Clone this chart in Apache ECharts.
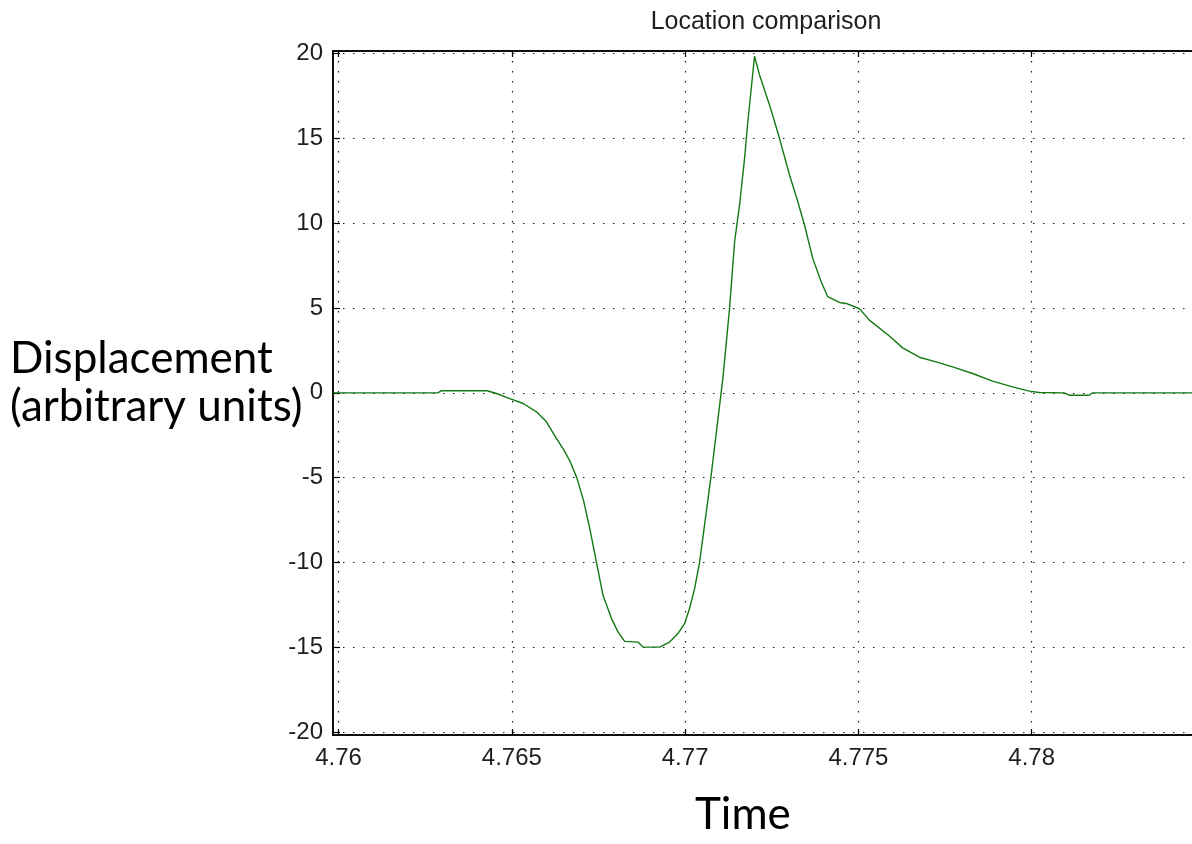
<!DOCTYPE html>
<html>
<head>
<meta charset="utf-8">
<script src="https://cdn.jsdelivr.net/npm/echarts@6/dist/echarts.min.js"></script>
<style>
html,body{margin:0;padding:0;overflow:hidden;background:#fff;}
#chart{width:1210px;height:844px;}
</style>
</head>
<body>
<div id="chart"></div>
<script>
// ---- data ----
const titleText = 'Location comparison';
const xName = 'Time';
const yNameLines = ['Displacement', '(arbitrary units)'];
const xTicks = [4.76, 4.765, 4.77, 4.775, 4.78];
const yTicks = [-20, -15, -10, -5, 0, 5, 10, 15, 20];
const times = [
  4.75985, 4.762867, 4.762954, 4.764280, 4.764559, 4.764942, 4.765326, 4.765712,
  4.766000, 4.766288, 4.766478, 4.766671, 4.766873, 4.767075, 4.767248, 4.767441,
  4.767631, 4.767873, 4.768063, 4.768256, 4.768640, 4.768784, 4.769265, 4.769553,
  4.769793, 4.769986, 4.770130, 4.770274, 4.770418, 4.770749, 4.771089, 4.771282,
  4.771427, 4.771571, 4.771715, 4.771810, 4.771908, 4.772003, 4.772147, 4.772435,
  4.772723, 4.773012, 4.773251, 4.773444, 4.773683, 4.773925, 4.774115, 4.774452,
  4.774646, 4.775029, 4.775317, 4.775893, 4.776277, 4.776758, 4.777239, 4.777718,
  4.778294, 4.778870, 4.779447, 4.779928, 4.780216, 4.780937, 4.781081, 4.781657,
  4.781752, 4.785
];
const displacement = [
  0, 0, 0.12, 0.12, -0.04, -0.34, -0.63, -1.12,
  -1.71, -2.7, -3.29, -4.0, -5.0, -6.4, -8.0, -9.98,
  -11.94, -13.3, -14.1, -14.66, -14.7, -14.99, -15.0, -14.7,
  -14.2, -13.6, -12.7, -11.55, -9.98, -4.9, 0.85, 4.98,
  8.91, 11.08, 13.83, 16.0, 17.96, 19.85, 18.75, 16.98,
  15.01, 12.85, 11.28, 9.9, 7.93, 6.55, 5.67, 5.33,
  5.27, 4.96, 4.29, 3.35, 2.65, 2.1, 1.83, 1.53,
  1.14, 0.69, 0.35, 0.1, 0.02, 0, -0.14, -0.14,
  0, 0
];

const seriesData = times.map((t, i) => [t, displacement[i]]);

const chart = echarts.init(document.getElementById('chart'), null, {renderer: 'canvas'});
const tickFont = 'Liberation Sans';
const gridDots = {show: true, lineStyle: {color: '#1a1a1a', width: 1.2, type: [1.5, 8.5]}};

chart.setOption({
  backgroundColor: '#ffffff',
  animation: false,
  grid: {left: 333, right: 5, top: 51, bottom: 109, containLabel: false,
         show: true, borderColor: '#000', borderWidth: 1.5, backgroundColor: 'transparent'},
  xAxis: [{
    type: 'value', min: 4.75984, max: 4.785, position: 'bottom',
    axisLine: {show: true, onZero: false, lineStyle: {color: '#000', width: 1.5}},
    axisTick: {show: true, inside: true, length: 6, customValues: xTicks, lineStyle: {color: '#000', width: 1.2}},
    axisLabel: {customValues: xTicks, margin: 11, color: '#1e1e1e', fontFamily: tickFont, fontSize: 24,
                formatter: v => String(+v.toFixed(3))},
    splitLine: gridDots
  }, {
    type: 'value', min: 4.75984, max: 4.785, position: 'top',
    axisLine: {show: true, onZero: false, lineStyle: {color: '#000', width: 1.5}},
    axisTick: {show: true, inside: true, length: 6, customValues: xTicks, lineStyle: {color: '#000', width: 1.2}},
    axisLabel: {show: false},
    splitLine: {show: false}
  }],
  yAxis: [{
    type: 'value', min: -20.18, max: 20.16,
    axisLine: {show: true, onZero: false, lineStyle: {color: '#000', width: 1.5}},
    axisTick: {show: true, inside: true, length: 7, customValues: yTicks, lineStyle: {color: '#000', width: 1.2}},
    axisLabel: {customValues: yTicks, margin: 10, color: '#1e1e1e', fontFamily: tickFont, fontSize: 24},
    splitLine: gridDots
  }],
  series: [{
    type: 'line', data: seriesData, showSymbol: false, symbol: 'none',
    xAxisIndex: 0, yAxisIndex: 0,
    lineStyle: {color: '#137a13', width: 1.4}, silent: true, clip: true
  }],
  graphic: [
    {type: 'text', x: 766, y: 22, silent: true,
     style: {text: titleText, align: 'center', verticalAlign: 'middle', fill: '#1e1e1e',
             font: '25px "Liberation Sans"'}},
    {type: 'text', x: 10, y: 359, silent: true,
     style: {text: yNameLines[0], align: 'left', verticalAlign: 'middle', fill: '#000',
             font: '44px Lato'}},
    {type: 'text', x: 10, y: 407, silent: true,
     style: {text: yNameLines[1], align: 'left', verticalAlign: 'middle', fill: '#000',
             font: '44px Lato'}},
    {type: 'text', x: 695, y: 815, silent: true,
     style: {text: xName, align: 'left', verticalAlign: 'middle', fill: '#000',
             font: '44px Lato'}}
  ]
});
</script>
</body>
</html>
